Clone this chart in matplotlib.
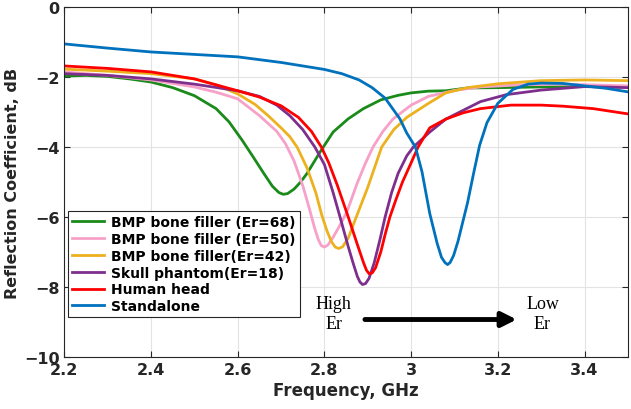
import numpy as np
import matplotlib.pyplot as plt

# green: BMP bone filler (Er=68)
f_green = [2.2, 2.25, 2.3, 2.35, 2.4, 2.45, 2.5, 2.55, 2.58, 2.61, 2.635, 2.66, 2.68, 2.695, 2.705,
           2.715, 2.73, 2.745, 2.76, 2.79, 2.82, 2.855, 2.89, 2.93, 2.97, 3.0, 3.04, 3.08, 3.13, 3.2, 3.3, 3.4, 3.5]
s_green = [-1.97, -1.95, -1.98, -2.05, -2.14, -2.3, -2.53, -2.9, -3.28, -3.8, -4.27, -4.75, -5.12, -5.3, -5.35,
           -5.33, -5.2, -5.0, -4.75, -4.14, -3.57, -3.19, -2.9, -2.65, -2.52, -2.45, -2.4, -2.39, -2.31, -2.3, -2.28, -2.27, -2.28]

# pink: BMP bone filler (Er=50)
f_pink = [2.2, 2.3, 2.4, 2.5, 2.55, 2.6, 2.65, 2.69, 2.71, 2.73, 2.75, 2.765, 2.777, 2.786, 2.793, 2.8,
          2.808, 2.82, 2.835, 2.852, 2.875, 2.895, 2.912, 2.935, 2.958, 3.0, 3.04, 3.1, 3.16, 3.25, 3.35, 3.5]
s_pink = [-1.85, -1.95, -2.08, -2.28, -2.43, -2.62, -3.1, -3.55, -3.9, -4.4, -5.1, -5.75, -6.3, -6.65, -6.82, -6.86,
          -6.8, -6.58, -6.25, -5.85, -5.05, -4.45, -4.0, -3.55, -3.2, -2.8, -2.55, -2.38, -2.28, -2.22, -2.2, -2.25]

# yellow: BMP bone filler (Er=42)
f_yellow = [2.2, 2.3, 2.4, 2.5, 2.55, 2.6, 2.64, 2.67, 2.7, 2.72, 2.737, 2.76, 2.78, 2.794, 2.806, 2.816,
            2.825, 2.833, 2.842, 2.855, 2.875, 2.9, 2.932, 2.96, 2.99, 3.04, 3.08, 3.13, 3.2, 3.3, 3.4, 3.5]
s_yellow = [-1.77, -1.83, -1.9, -2.05, -2.22, -2.48, -2.78, -3.1, -3.45, -3.7, -4.0, -4.6, -5.3, -5.95, -6.4, -6.7,
            -6.86, -6.9, -6.85, -6.6, -5.95, -5.15, -4.0, -3.5, -3.15, -2.75, -2.45, -2.3, -2.19, -2.1, -2.08, -2.1]

# purple: Skull phantom (Er=18)
f_purple = [2.2, 2.3, 2.4, 2.5, 2.6, 2.65, 2.69, 2.72, 2.75, 2.778, 2.8, 2.82, 2.836, 2.855, 2.867, 2.876,
            2.882, 2.888, 2.895, 2.903, 2.915, 2.928, 2.94, 2.955, 2.97, 2.99, 3.005, 3.043, 3.08, 3.12, 3.16,
            3.22, 3.3, 3.4, 3.5]
s_purple = [-1.9, -1.95, -2.05, -2.2, -2.39, -2.55, -2.8, -3.1, -3.5, -4.0, -4.5, -5.3, -6.0, -6.85, -7.35, -7.7,
            -7.86, -7.93, -7.9, -7.75, -7.3, -6.65, -6.0, -5.3, -4.75, -4.25, -4.0, -3.57, -3.2, -2.95, -2.7,
            -2.5, -2.37, -2.27, -2.3]

# red: Human head
f_red = [2.2, 2.3, 2.4, 2.5, 2.6, 2.65, 2.7, 2.74, 2.77, 2.793, 2.81, 2.83, 2.855, 2.875, 2.89, 2.897,
         2.903, 2.91, 2.918, 2.93, 2.94, 2.951, 2.965, 2.98, 3.0, 3.016, 3.043, 3.08, 3.12, 3.16, 3.23, 3.3,
         3.35, 3.42, 3.5]
s_red = [-1.68, -1.75, -1.85, -2.05, -2.39, -2.57, -2.82, -3.15, -3.55, -4.0, -4.45, -5.1, -6.0, -6.75, -7.3, -7.52,
         -7.62, -7.6, -7.45, -7.0, -6.5, -6.0, -5.5, -5.0, -4.45, -4.0, -3.45, -3.2, -3.02, -2.9, -2.8, -2.8,
         -2.83, -2.9, -3.05]

# blue: Standalone
f_blue = [2.2, 2.3, 2.4, 2.5, 2.6, 2.7, 2.76, 2.8, 2.84, 2.88, 2.91, 2.94, 2.974, 2.99, 3.01, 3.025,
          3.043, 3.06, 3.07, 3.078, 3.084, 3.09, 3.098, 3.108, 3.118, 3.13, 3.145, 3.158, 3.175, 3.2, 3.235,
          3.27, 3.3, 3.35, 3.4, 3.45, 3.5]
s_blue = [-1.05, -1.17, -1.28, -1.35, -1.42, -1.58, -1.7, -1.78, -1.9, -2.08, -2.3, -2.6, -3.19, -3.6, -4.0, -4.7,
          -5.9, -6.75, -7.15, -7.3, -7.36, -7.3, -7.1, -6.7, -6.2, -5.6, -4.7, -3.95, -3.3, -2.75, -2.35,
          -2.2, -2.17, -2.18, -2.25, -2.32, -2.42]

series = [
    (f_green, s_green, '#1a8a1a', 'BMP bone filler (Er=68)'),
    (f_pink, s_pink, '#f7a1c8', 'BMP bone filler (Er=50)'),
    (f_yellow, s_yellow, '#edb120', 'BMP bone filler(Er=42)'),
    (f_purple, s_purple, '#7e2f8e', 'Skull phantom(Er=18)'),
    (f_red, s_red, '#ff0000', 'Human head'),
    (f_blue, s_blue, '#0072bd', 'Standalone'),
]

x_ticks = [2.2, 2.4, 2.6, 2.8, 3.0, 3.2, 3.4]
x_tick_labels = ['2.2', '2.4', '2.6', '2.8', '3', '3.2', '3.4']
y_ticks = [0, -2, -4, -6, -8, -10]

fig = plt.figure(figsize=(6.31, 4.10), dpi=100)
ax = fig.add_axes([0.102, 0.127, 0.893, 0.853])

for f, s, c, lab in series:
    ax.plot(f, s, color=c, lw=2.0, label=lab, solid_joinstyle='round')

ax.set_xlim(2.2, 3.5)
ax.set_ylim(-10, 0)
ax.set_xticks(x_ticks)
ax.set_xticklabels(x_tick_labels)
ax.set_yticks(y_ticks)
ax.grid(True, color='#e3e3e3', lw=0.8)
ax.set_axisbelow(True)
ax.tick_params(direction='in', top=True, right=True, length=4, color='#262626',
               labelsize=11.5, labelcolor='#262626', width=0.8)
for lbl in ax.get_xticklabels() + ax.get_yticklabels():
    lbl.set_fontweight('bold')
for sp in ax.spines.values():
    sp.set_color('#262626')
    sp.set_linewidth(0.8)

ax.set_xlabel('Frequency, GHz', fontsize=12, fontweight='bold', color='#262626', labelpad=3)
ax.set_ylabel('Reflection Coefficient, dB', fontsize=11.5, fontweight='bold', color='#262626', labelpad=3)

leg = ax.legend(loc='upper left', bbox_to_anchor=(0.007, 0.417), prop={'weight': 'bold', 'size': 10},
                fancybox=False, edgecolor='#262626', framealpha=1, handlelength=2.3,
                labelspacing=0.2, borderpad=0.3, handletextpad=0.5, borderaxespad=0)
leg.get_frame().set_linewidth(0.8)

ax.text(2.821, -8.75, 'High\nEr', ha='center', va='center', fontsize=13,
        family='Liberation Serif', linespacing=1.25)
ax.text(3.303, -8.75, 'Low\nEr', ha='center', va='center', fontsize=13,
        family='Liberation Serif', linespacing=1.25)
ax.annotate('', xy=(3.25, -8.93), xytext=(2.887, -8.93),
            arrowprops=dict(arrowstyle='-|>', color='black', lw=3.5, mutation_scale=22))

fig.savefig('out.png', dpi=100)
